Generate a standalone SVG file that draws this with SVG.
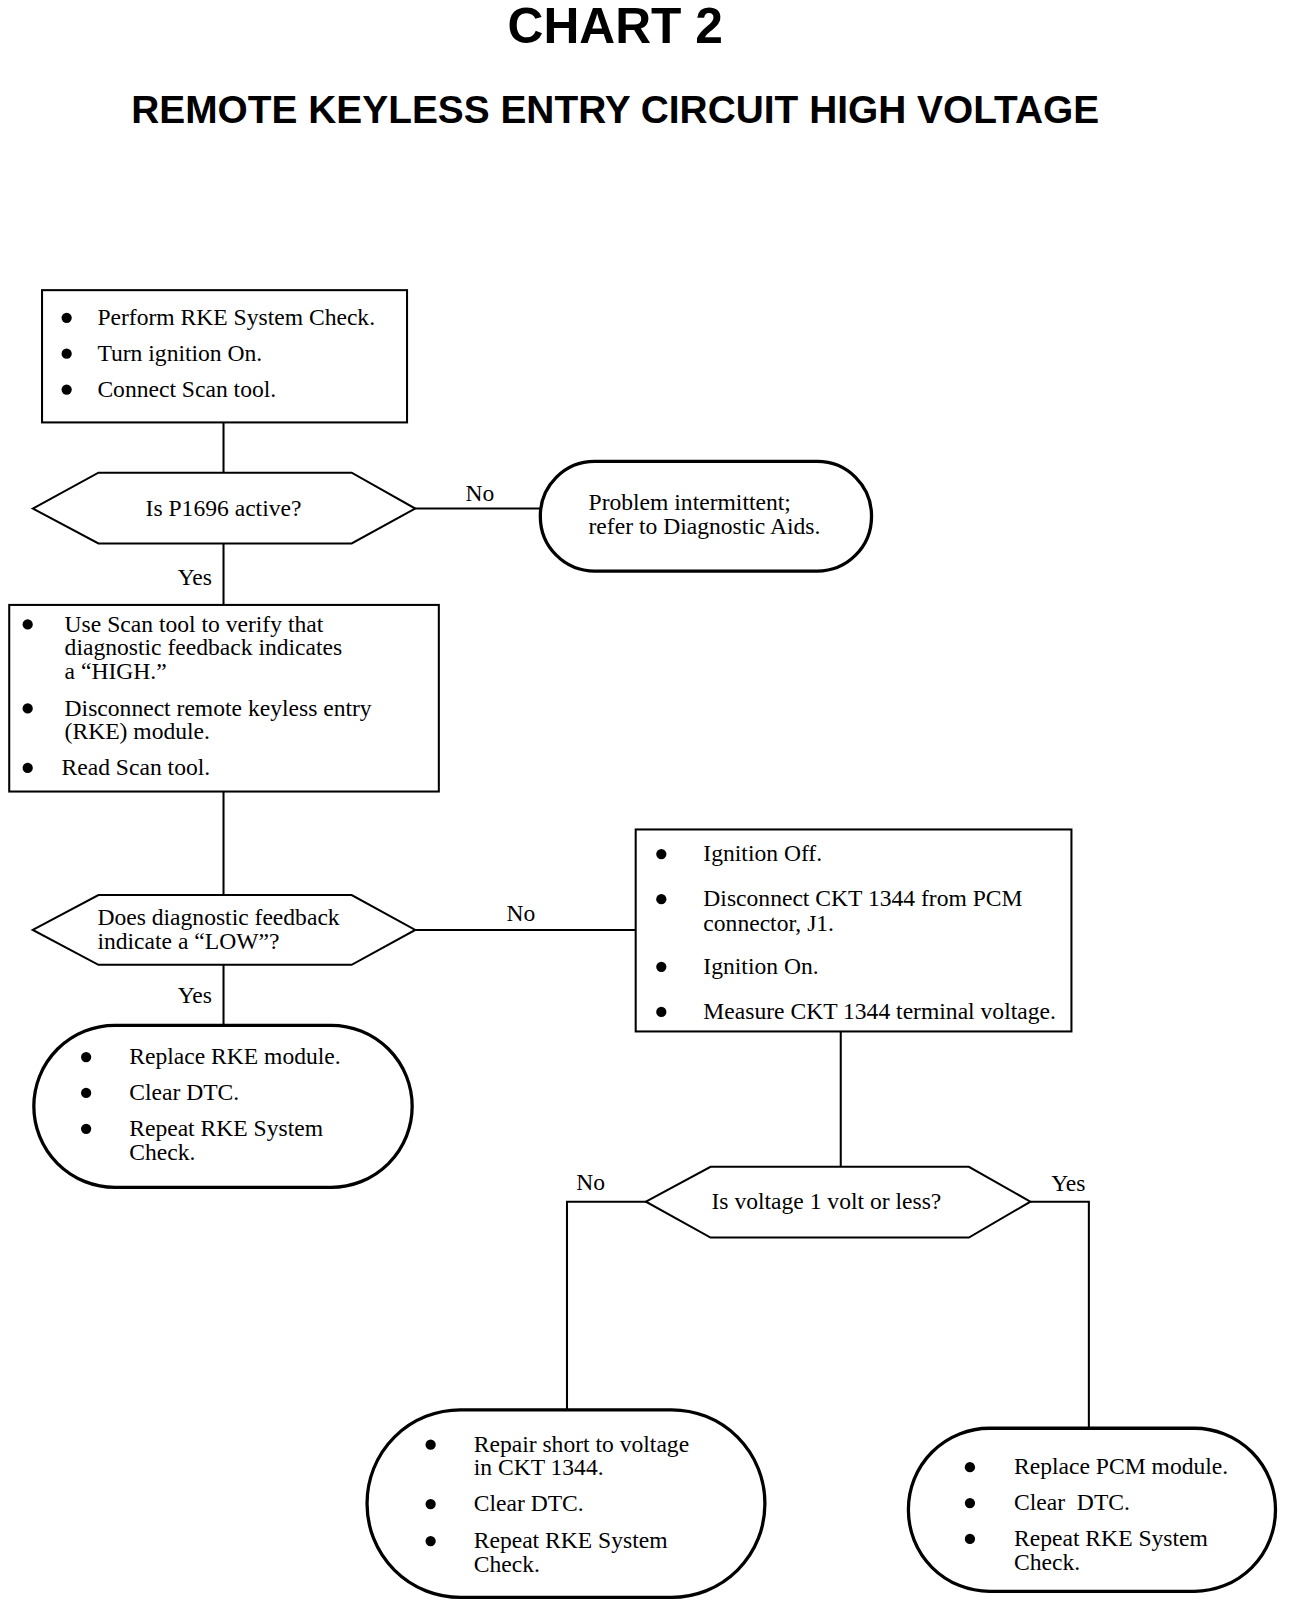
<svg xmlns="http://www.w3.org/2000/svg" width="1296" height="1610" viewBox="0 0 1296 1610">
<style>
.t{font-family:"Liberation Serif","Times New Roman",serif;font-size:23px;fill:#000}
.h{font-family:"Liberation Sans",Arial,sans-serif;font-weight:bold;fill:#000}
.box{fill:#fff;stroke:#000;stroke-width:2}
.term{fill:#fff;stroke:#000;stroke-width:3.2}
.dec{fill:#fff;stroke:#000;stroke-width:2}
.ln{fill:none;stroke:#000;stroke-width:2}
.b{fill:#000}
</style>
<rect width="1296" height="1610" fill="#fff"/>
<g transform="scale(1.0253)">
<text class="h" x="600" y="42" font-size="48" text-anchor="middle" textLength="210" lengthAdjust="spacingAndGlyphs">CHART 2</text>
<text class="h" x="600" y="120" font-size="38" text-anchor="middle" textLength="944" lengthAdjust="spacingAndGlyphs">REMOTE KEYLESS ENTRY CIRCUIT HIGH VOLTAGE</text>

<g id="connectors">
<line class="ln" x1="218" y1="412" x2="218" y2="461"/>
<line class="ln" x1="405" y1="496" x2="527" y2="496"/>
<line class="ln" x1="218" y1="530" x2="218" y2="590"/>
<line class="ln" x1="218" y1="772" x2="218" y2="873"/>
<line class="ln" x1="405" y1="907" x2="620" y2="907"/>
<line class="ln" x1="218" y1="941" x2="218" y2="1000"/>
<line class="ln" x1="820" y1="1006" x2="820" y2="1138"/>
<polyline class="ln" points="630,1172 553,1172 553,1375"/>
<polyline class="ln" points="1005,1172 1062,1172 1062,1393"/>
<text class="t" x="468" y="489" text-anchor="middle">No</text>
<text class="t" x="190" y="571" text-anchor="middle">Yes</text>
<text class="t" x="508" y="898" text-anchor="middle">No</text>
<text class="t" x="190" y="978" text-anchor="middle">Yes</text>
<text class="t" x="576" y="1161" text-anchor="middle">No</text>
<text class="t" x="1042" y="1162" text-anchor="middle">Yes</text>
</g>

<g id="start">
<rect class="box" x="41" y="283" width="356" height="129"/>
<circle class="b" cx="65" cy="310" r="5"/>
<circle class="b" cx="65" cy="345" r="5"/>
<circle class="b" cx="65" cy="380" r="5"/>
<text class="t" x="95" y="317">Perform RKE System Check.</text>
<text class="t" x="95" y="352">Turn ignition On.</text>
<text class="t" x="95" y="387">Connect Scan tool.</text>
</g>

<g id="dec1">
<polygon class="dec" points="32,496 96,461 343,461 405,496 343,530 96,530"/>
<text class="t" x="218" y="503" text-anchor="middle">Is P1696 active?</text>
</g>

<g id="intermittent">
<rect class="term" x="527" y="450" width="323" height="107" rx="53" ry="53"/>
<text class="t" x="574" y="497">Problem intermittent;</text>
<text class="t" x="574" y="521">refer to Diagnostic Aids.</text>
</g>

<g id="verify">
<rect class="box" x="9" y="590" width="419" height="182"/>
<circle class="b" cx="27" cy="609" r="5"/>
<circle class="b" cx="27" cy="691" r="5"/>
<circle class="b" cx="27" cy="749" r="5"/>
<text class="t" x="63" y="616">Use Scan tool to verify that</text>
<text class="t" x="63" y="639">diagnostic feedback indicates</text>
<text class="t" x="63" y="662">a “HIGH.”</text>
<text class="t" x="63" y="698">Disconnect remote keyless entry</text>
<text class="t" x="63" y="721">(RKE) module.</text>
<text class="t" x="60" y="756">Read Scan tool.</text>
</g>

<g id="dec2">
<polygon class="dec" points="32,907 96,873 343,873 405,907 343,941 96,941"/>
<text class="t" x="95" y="902">Does diagnostic feedback</text>
<text class="t" x="95" y="926">indicate a “LOW”?</text>
</g>

<g id="measure">
<rect class="box" x="620" y="809" width="425" height="197"/>
<circle class="b" cx="645" cy="833" r="5"/>
<circle class="b" cx="645" cy="877" r="5"/>
<circle class="b" cx="645" cy="943" r="5"/>
<circle class="b" cx="645" cy="987" r="5"/>
<text class="t" x="686" y="840">Ignition Off.</text>
<text class="t" x="686" y="884">Disconnect CKT 1344 from PCM</text>
<text class="t" x="686" y="908">connector, J1.</text>
<text class="t" x="686" y="950">Ignition On.</text>
<text class="t" x="686" y="994">Measure CKT 1344 terminal voltage.</text>
</g>

<g id="replaceRKE">
<rect class="term" x="33" y="1000" width="369" height="158" rx="79" ry="79"/>
<circle class="b" cx="84" cy="1031" r="5"/>
<circle class="b" cx="84" cy="1066" r="5"/>
<circle class="b" cx="84" cy="1101" r="5"/>
<text class="t" x="126" y="1038">Replace RKE module.</text>
<text class="t" x="126" y="1073">Clear DTC.</text>
<text class="t" x="126" y="1108">Repeat RKE System</text>
<text class="t" x="126" y="1131">Check.</text>
</g>

<g id="dec3">
<polygon class="dec" points="630,1172 693,1138 945,1138 1005,1172 945,1207 693,1207"/>
<text class="t" x="806" y="1179" text-anchor="middle">Is voltage 1 volt or less?</text>
</g>

<g id="repair">
<rect class="term" x="358" y="1375" width="388" height="183" rx="91" ry="91"/>
<circle class="b" cx="420" cy="1409" r="5"/>
<circle class="b" cx="420" cy="1467" r="5"/>
<circle class="b" cx="420" cy="1503" r="5"/>
<text class="t" x="462" y="1416">Repair short to voltage</text>
<text class="t" x="462" y="1439">in CKT 1344.</text>
<text class="t" x="462" y="1474">Clear DTC.</text>
<text class="t" x="462" y="1510">Repeat RKE System</text>
<text class="t" x="462" y="1533">Check.</text>
</g>

<g id="replacePCM">
<rect class="term" x="886" y="1393" width="358" height="159" rx="79" ry="79"/>
<circle class="b" cx="946" cy="1431" r="5"/>
<circle class="b" cx="946" cy="1466" r="5"/>
<circle class="b" cx="946" cy="1501" r="5"/>
<text class="t" x="989" y="1438">Replace PCM module.</text>
<text class="t" x="989" y="1473" xml:space="preserve">Clear  DTC.</text>
<text class="t" x="989" y="1508">Repeat RKE System</text>
<text class="t" x="989" y="1531">Check.</text>
</g>
</g>
</svg>
